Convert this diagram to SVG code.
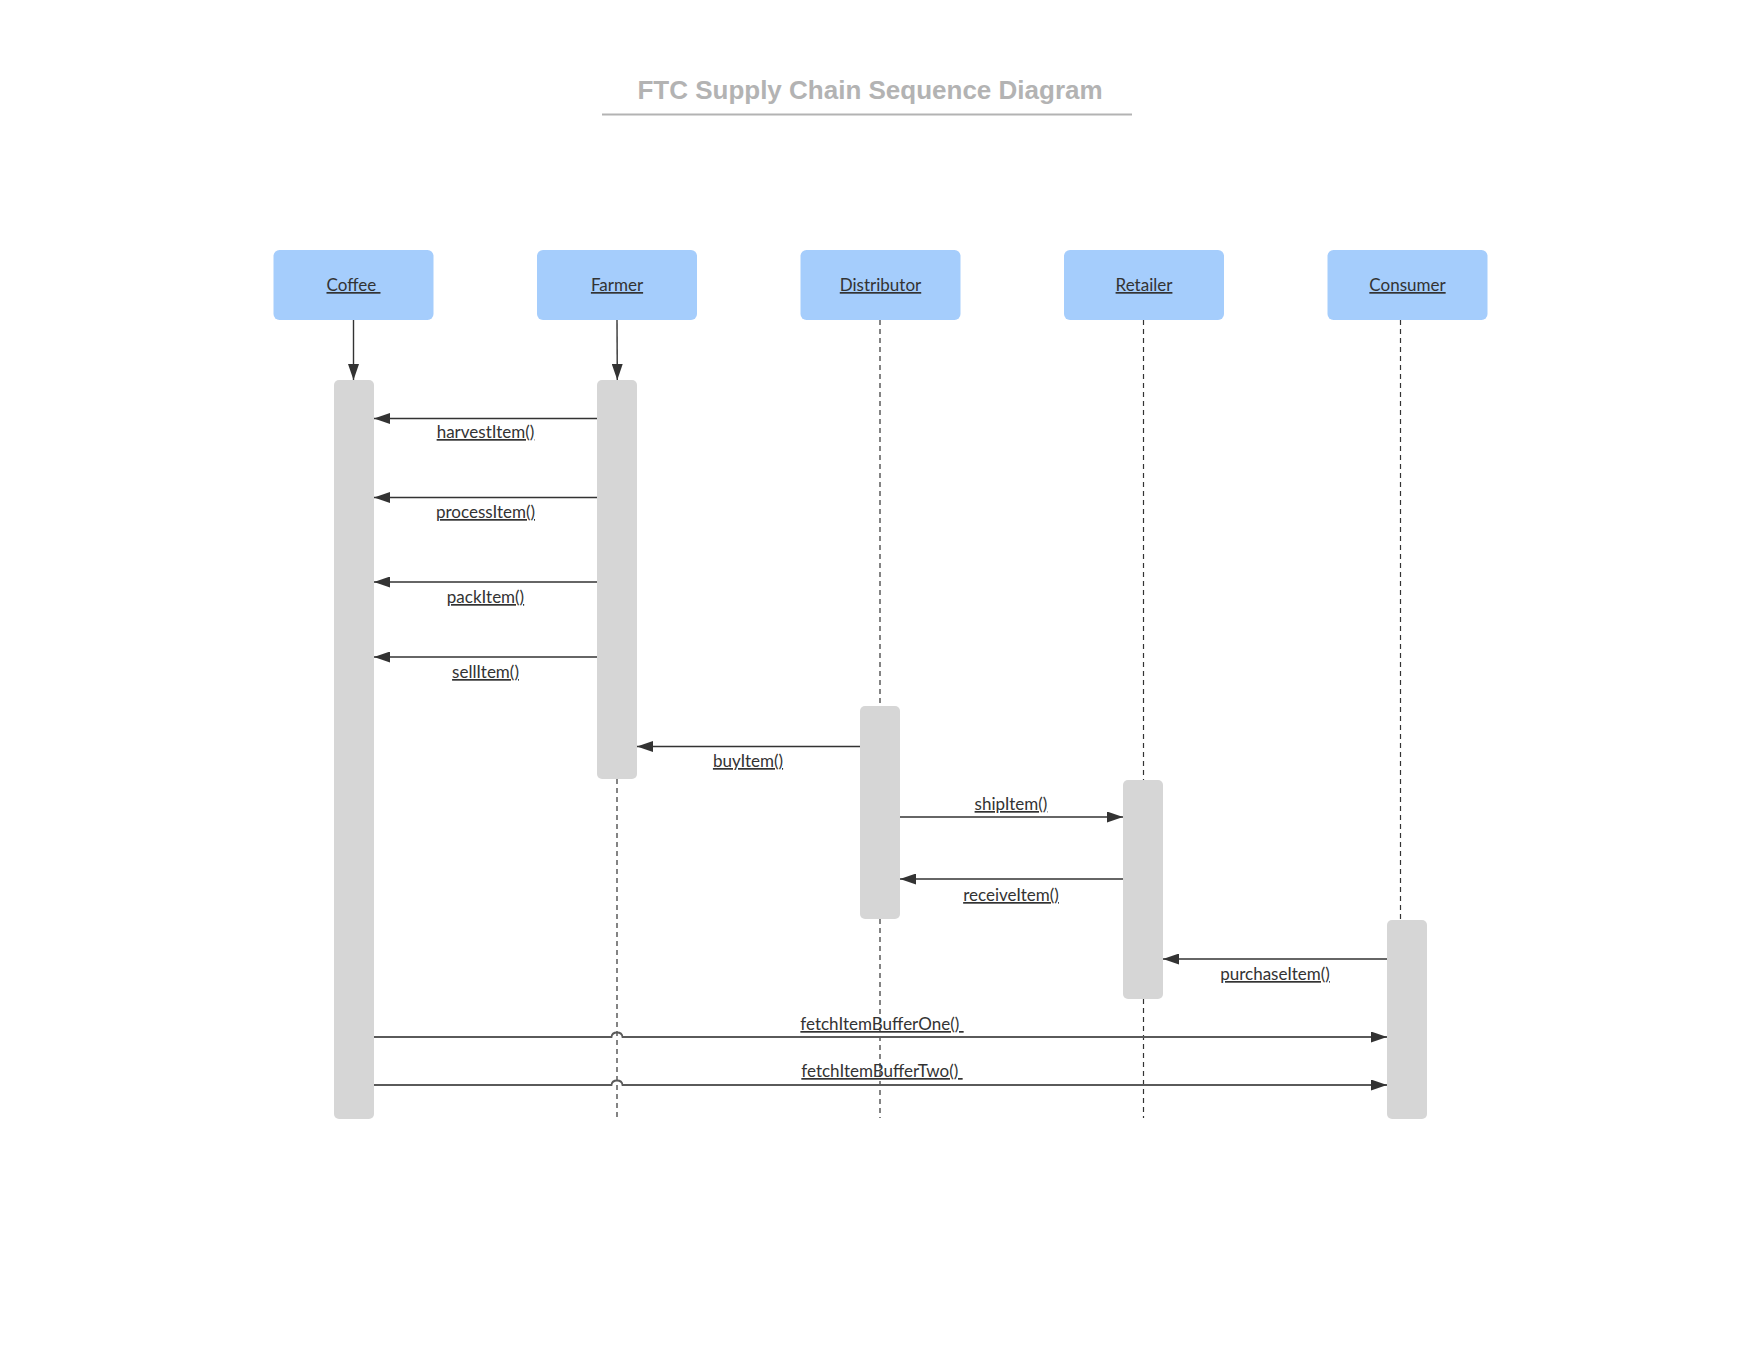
<svg xmlns="http://www.w3.org/2000/svg" width="1760" height="1360" viewBox="0 0 1760 1360">
<style>
.title{font-family:"Liberation Sans",Arial,sans-serif;font-weight:bold;font-size:26px;fill:#b3b3b3;text-anchor:middle}
.hdr{fill:#a5cdfc}
.bar{fill:#d6d6d6}
.lbl{font-family:Lato,"Open Sans",sans-serif;font-size:17px;fill:#333;text-anchor:middle;text-decoration:underline;white-space:pre}
.msg{stroke:#333;stroke-width:1.4;fill:none}
.fetch{stroke:#5a5a5a;stroke-width:1.8;fill:none}
.life{stroke:#333;stroke-width:1.2;stroke-dasharray:5,4;fill:none}
</style>
<defs>
<marker id="ah" markerWidth="16" markerHeight="11" refX="16" refY="5.5" orient="auto" markerUnits="userSpaceOnUse">
<path d="M0,0 L16,5.5 L0,11 z" fill="#333"/>
</marker>
</defs>
<rect width="1760" height="1360" fill="#fff"/>
<g id="title">
<text class="title" x="870" y="99">FTC Supply Chain Sequence Diagram</text>
<line x1="602" y1="114.5" x2="1132" y2="114.5" stroke="#b3b3b3" stroke-width="2"/>
</g>
<g id="lifelines">
<line class="life" x1="617" y1="779" x2="617" y2="1118"/>
<line class="life" x1="880" y1="320" x2="880" y2="706"/>
<line class="life" x1="880" y1="919" x2="880" y2="1118"/>
<line class="life" x1="1143.5" y1="320" x2="1143.5" y2="780"/>
<line class="life" x1="1143.5" y1="999" x2="1143.5" y2="1118"/>
<line class="life" x1="1400.5" y1="320" x2="1400.5" y2="920"/>
</g>
<g id="node-coffee">
<rect class="hdr" x="273.5" y="250" width="160" height="70" rx="6"/>
<text class="lbl" x="353.5" y="291">Coffee </text>
</g>
<g id="node-farmer">
<rect class="hdr" x="537" y="250" width="160" height="70" rx="6"/>
<text class="lbl" x="617" y="291">Farmer</text>
</g>
<g id="node-distributor">
<rect class="hdr" x="800.5" y="250" width="160" height="70" rx="6"/>
<text class="lbl" x="880.5" y="291">Distributor</text>
</g>
<g id="node-retailer">
<rect class="hdr" x="1064" y="250" width="160" height="70" rx="6"/>
<text class="lbl" x="1144" y="291">Retailer</text>
</g>
<g id="node-consumer">
<rect class="hdr" x="1327.5" y="250" width="160" height="70" rx="6"/>
<text class="lbl" x="1407.5" y="291">Consumer</text>
</g>
<g id="act-coffee"><rect class="bar" x="334" y="380" width="40" height="739" rx="5"/></g>
<g id="act-farmer"><rect class="bar" x="597" y="380" width="40" height="399" rx="5"/></g>
<g id="act-distributor"><rect class="bar" x="860" y="706" width="40" height="213" rx="5"/></g>
<g id="act-retailer"><rect class="bar" x="1123" y="780" width="40" height="219" rx="5"/></g>
<g id="act-consumer"><rect class="bar" x="1387" y="920" width="40" height="199" rx="5"/></g>
<g id="connectors">
<line class="msg" x1="353.5" y1="320" x2="353.5" y2="380" marker-end="url(#ah)"/>
<line class="msg" x1="617" y1="320" x2="617.3" y2="380" marker-end="url(#ah)"/>
<line class="msg" x1="597" y1="418.5" x2="374" y2="418.5" marker-end="url(#ah)"/>
<line class="msg" x1="597" y1="497.5" x2="374" y2="497.5" marker-end="url(#ah)"/>
<line class="msg" x1="597" y1="582" x2="374" y2="582" marker-end="url(#ah)"/>
<line class="msg" x1="597" y1="657" x2="374" y2="657" marker-end="url(#ah)"/>
<line class="msg" x1="860" y1="746.5" x2="637" y2="746.5" marker-end="url(#ah)"/>
<line class="msg" x1="900" y1="817" x2="1123" y2="817" marker-end="url(#ah)"/>
<line class="msg" x1="1123" y1="879" x2="900" y2="879" marker-end="url(#ah)"/>
<line class="msg" x1="1387" y1="959" x2="1163" y2="959" marker-end="url(#ah)"/>
<path class="fetch" d="M374,1037 L611.5,1037 Q612,1032.5 617,1032.5 Q622,1032.5 622.5,1037 L1387,1037" marker-end="url(#ah)"/>
<path class="fetch" d="M374,1085 L611.5,1085 Q612,1080.5 617,1080.5 Q622,1080.5 622.5,1085 L1387,1085" marker-end="url(#ah)"/>
<text class="lbl" x="485.5" y="438">harvestItem()</text>
<text class="lbl" x="485.5" y="518">processItem()</text>
<text class="lbl" x="485.5" y="603">packItem()</text>
<text class="lbl" x="485.5" y="678">sellItem()</text>
<text class="lbl" x="748" y="767">buyItem()</text>
<text class="lbl" x="1011" y="810">shipItem()</text>
<text class="lbl" x="1011" y="901">receiveItem()</text>
<text class="lbl" x="1275" y="980">purchaseItem()</text>
<text class="lbl" x="882" y="1030">fetchItemBufferOne() </text>
<text class="lbl" x="882" y="1077">fetchItemBufferTwo() </text>
</g>
</svg>
